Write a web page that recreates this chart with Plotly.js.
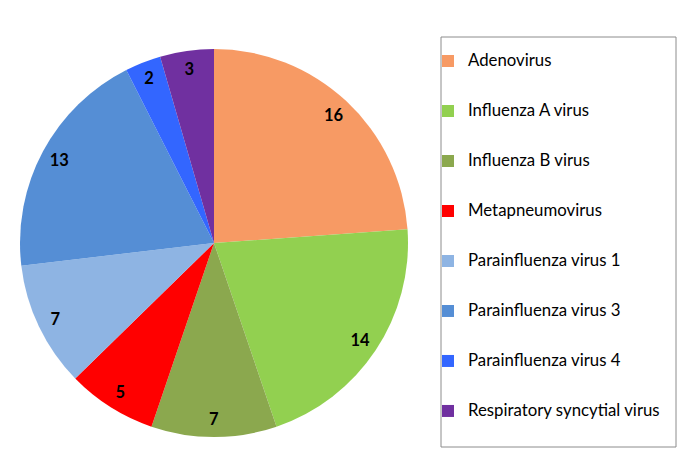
<!DOCTYPE html>
<html>
<head>
<meta charset="utf-8">
<script src="https://cdn.plot.ly/plotly-3.0.1.min.js"></script>
<style>html,body{margin:0;padding:0;background:#fff;}#chart{width:685px;height:460px;}</style>
</head>
<body>
<div id="chart"></div>
<script>
const categories = ["Adenovirus", "Influenza A virus", "Influenza B virus", "Metapneumovirus",
  "Parainfluenza virus 1", "Parainfluenza virus 3", "Parainfluenza virus 4", "Respiratory syncytial virus"];
const counts = [16, 14, 7, 5, 7, 13, 2, 3];
const colors = ["#F79A64", "#92D050", "#8BA84E", "#FF0000", "#8EB4E3", "#558ED5", "#3366FF", "#7030A0"];

const W = 685, H = 460;
const FONT = "Lato, 'Liberation Sans', sans-serif";
const pieDomain = { x: [20 / W, 408 / W], y: [23 / H, 411 / H] };

// legend labels: padded with blank lines to give the wide row spacing of the reference
const legendLabels = categories.map(c => "&nbsp;<br><span style='font-size:16.8px'>" + c + "</span><br>&nbsp;");

const pieTrace = {
  type: "pie",
  labels: legendLabels,
  values: counts,
  sort: false,
  direction: "clockwise",
  rotation: 0,
  marker: { colors: colors, line: { width: 0 } },
  textinfo: "none",
  domain: pieDomain,
  hoverinfo: "value+percent"
};

// transparent ring on top, used only to place the value labels near the rim
const labelTrace = {
  type: "pie",
  labels: legendLabels,
  values: counts,
  sort: false,
  direction: "clockwise",
  rotation: 0,
  hole: 0.81,
  marker: { colors: categories.map(() => "rgba(0,0,0,0)"), line: { width: 0 } },
  textinfo: "value",
  textposition: "inside",
  insidetextorientation: "horizontal",
  textfont: { family: FONT, size: 16.5, color: "#000", weight: "bold" },
  domain: pieDomain,
  showlegend: false,
  hoverinfo: "skip"
};

const layout = {
  width: W, height: H,
  margin: { l: 0, r: 0, t: 0, b: 0, autoexpand: false },
  paper_bgcolor: "#fff",
  showlegend: true,
  font: { family: FONT, color: "#000" },
  legend: {
    x: 437 / W, xanchor: "left",
    y: 1 - 31 / H, yanchor: "top",
    bgcolor: "rgba(0,0,0,0)",
    borderwidth: 0,
    font: { family: FONT, size: 12.05, color: "#000" },
    valign: "middle",
    indentation: -9,
    traceorder: "normal"
  },
  shapes: [{
    type: "rect", xref: "paper", yref: "paper",
    x0: 441 / W, x1: 676 / W,
    y0: 1 - 447 / H, y1: 1 - 37 / H,
    line: { color: "#8C8C8C", width: 1 }, fillcolor: "rgba(0,0,0,0)", layer: "below"
  }]
};

Plotly.newPlot("chart", [pieTrace, labelTrace], layout, { displayModeBar: false, staticPlot: true });
</script>
</body>
</html>
